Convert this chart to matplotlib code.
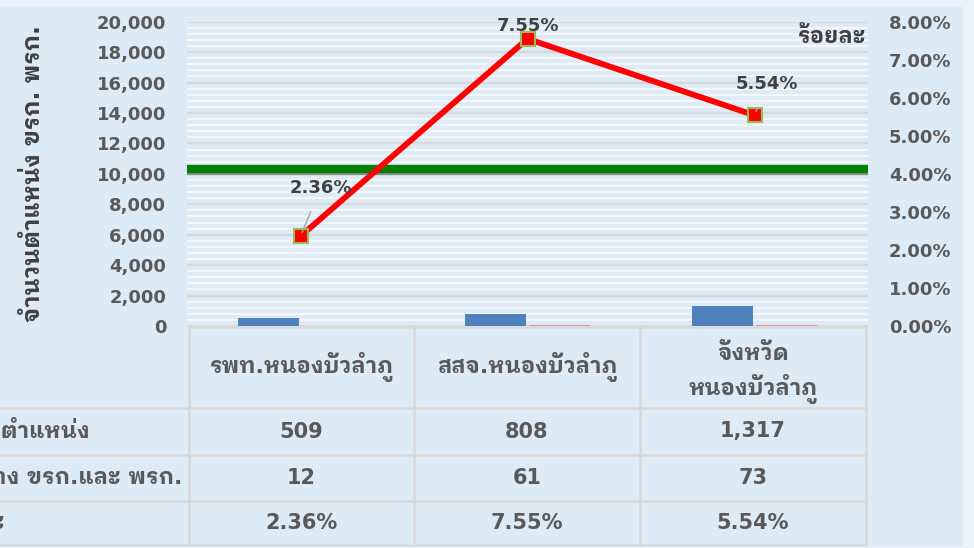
import matplotlib
matplotlib.use("Agg")
import matplotlib.pyplot as plt
from matplotlib import font_manager
from matplotlib.ft2font import FT2Font
import matplotlib.patheffects as pe

# ข้อมูล
หน่วยงาน = ["รพท.หนองบัวลำภู", "สสจ.หนองบัวลำภู", "จังหวัด\nหนองบัวลำภู"]
จำนวนตำแหน่ง = [509, 808, 1317]
ตำแหน่งว่าง = [12, 61, 73]
ร้อยละ = [2.36, 7.55, 5.54]
เกณฑ์ = 4.14
ชื่อแถว = ["จำนวนตำแหน่ง", "ตำแหน่งว่าง ขรก.และ พรก.", "ร้อยละ"]
ytick_left = list(range(0, 20001, 2000))
ytick_right = list(range(0, 9))


def หาฟอนต์ไทย():
    ผล = {}
    for f in font_manager.fontManager.ttflist:
        try:
            if 0x0E01 in FT2Font(f.fname).get_charmap():
                w = f.weight if isinstance(f.weight, int) else 400
                ผล[f.name] = max(ผล.get(f.name, 0), w)
        except Exception:
            pass
    if not ผล:
        return "DejaVu Sans", 400
    ชื่อ = max(ผล, key=lambda n: (ผล[n] >= 600, "Thai" in n, n))
    return ชื่อ, ผล[ชื่อ]


THAI, THAI_W = หาฟอนต์ไทย()
plt.rcParams["font.family"] = ["DejaVu Sans", THAI]
plt.rcParams["font.weight"] = "bold"

BG = "#DDEBF7"
GRID = "#D9D9D9"
TXT = "#595959"
DARK = "#404040"
W, H = 974, 548


def หนา(สี):
    # ทำตัวหนาเทียมเมื่อฟอนต์ไทยไม่มีน้ำหนักหนา
    if THAI_W >= 600:
        return []
    return [pe.withStroke(linewidth=1.1, foreground=สี)]


fig = plt.figure(figsize=(W / 100, H / 100), dpi=100, facecolor="#EAF2FC")

# พื้นหลังและตาราง (พิกัดพิกเซล)
bg = fig.add_axes([0, 0, 1, 1])
bg.set_xlim(0, W)
bg.set_ylim(H, 0)
bg.axis("off")
bg.add_patch(plt.Rectangle((0, 7), 962, 538, color=BG, zorder=0))

ax = fig.add_axes([187 / W, 1 - 326 / H, (868 - 187) / W, (326 - 21.7) / H])
ax.set_facecolor(BG)
ax2 = ax.twinx()

x = list(range(len(หน่วยงาน)))
ax.bar([i - 0.14 for i in x], จำนวนตำแหน่ง, width=0.27, color="#4F81BD", zorder=3)
ax.bar([i + 0.14 for i in x], ตำแหน่งว่าง, width=0.27, color="#D99694", zorder=3)
ax.set_xlim(-0.5, 2.5)
ax.set_ylim(0, 20000)
ax.set_yticks(ytick_left)
ax.set_yticks(list(range(0, 20001, 400)), minor=True)
ax.set_yticklabels([f"{v:,}" for v in ytick_left], fontsize=13, color=TXT, fontweight="bold")
ax.tick_params(axis="y", which="both", length=0, pad=15)
ax.set_xticks([])
ax.grid(axis="y", which="minor", color="#F4F6F8", lw=1.6, zorder=0)
ax.grid(axis="y", which="major", color=GRID, lw=1.6, zorder=1)
for s in ax.spines.values():
    s.set_visible(False)
for s in ax2.spines.values():
    s.set_visible(False)

ax2.set_ylim(0, 8)
ax2.set_yticks(ytick_right)
ax2.set_yticklabels([f"{v:.2f}%" for v in ytick_right], fontsize=13, color=TXT, fontweight="bold")
ax2.tick_params(axis="y", length=0, pad=15)

ax2.axhline(เกณฑ์, color="#008000", lw=6, zorder=4,
            path_effects=[pe.SimpleLineShadow(offset=(0.5, -1.5), alpha=0.35), pe.Normal()])
ax2.plot(x, ร้อยละ, color="#FF0000", lw=4.2, marker="s", markersize=10,
         markerfacecolor="#FF0000", markeredgecolor="#9BBB59", markeredgewidth=1.5, zorder=5)

# ป้ายข้อมูล
ค่าเลื่อน = [(20, 48), (0, 13), (12, 31)]
for i, (v, (dx, dy)) in enumerate(zip(ร้อยละ, ค่าเลื่อน)):
    ลูกศร = dict(arrowstyle="-", color="#A6A6A6", lw=1, shrinkA=9, shrinkB=3) if dx else None
    ax2.annotate(f"{v:.2f}%", xy=(i, v), xytext=(dx, dy), textcoords="offset pixels",
                 ha="center", va="center", fontsize=13, fontweight="bold", color=DARK,
                 arrowprops=ลูกศร, zorder=6)

ax.text((33 - 187) / 681, 0.5, "จำนวนตำแหน่ง ขรก. พรก.", transform=ax.transAxes, rotation=90,
        ha="center", va="center", fontsize=17, fontweight="bold", color=DARK,
        path_effects=หนา(DARK))
ax.text(0.997, 0.95, "ร้อยละ", transform=ax.transAxes, ha="right", va="center",
        fontsize=16, fontweight="bold", color=DARK, zorder=7, path_effects=หนา(DARK))

# ตารางข้อมูล
คอลัมน์ = [189, 414, 640, 866]
แถว = [327, 408, 455, 501, 545]
bg.plot([คอลัมน์[0], คอลัมน์[-1]], [แถว[0], แถว[0]], color=GRID, lw=1.8, zorder=1)
for yy in แถว[1:]:
    bg.plot([0, คอลัมน์[-1]], [yy, yy], color=GRID, lw=1.8, zorder=1)
for xx in คอลัมน์:
    bg.plot([xx, xx], [แถว[0], แถว[-1]], color=GRID, lw=1.8, zorder=1)

for j, ชื่อ in enumerate(หน่วยงาน):
    cx = (คอลัมน์[j] + คอลัมน์[j + 1]) / 2
    cy = (แถว[0] + แถว[1]) / 2 + (6 if "\n" in ชื่อ else 0)
    bg.text(cx, cy, ชื่อ, ha="center", va="center", fontsize=16,
            fontweight="bold", color=TXT, linespacing=1.45, path_effects=หนา(TXT))
    ค่า = [f"{จำนวนตำแหน่ง[j]:,}", f"{ตำแหน่งว่าง[j]:,}", f"{ร้อยละ[j]:.2f}%"]
    for r, t in enumerate(ค่า):
        bg.text(cx, (แถว[r + 1] + แถว[r + 2]) / 2, t, ha="center", va="center",
                fontsize=15, fontweight="bold", color=TXT)

# ป้ายแถวถูกตัดที่ขอบซ้ายเหมือนต้นฉบับ
ขอบขวา = [90, 182, 5]
for r, t in enumerate(ชื่อแถว):
    bg.text(ขอบขวา[r], (แถว[r + 1] + แถว[r + 2]) / 2, t, ha="right", va="center",
            fontsize=16, fontweight="bold", color=TXT, clip_on=False,
            path_effects=หนา(TXT))

fig.savefig("out.png", dpi=100, facecolor=fig.get_facecolor())
